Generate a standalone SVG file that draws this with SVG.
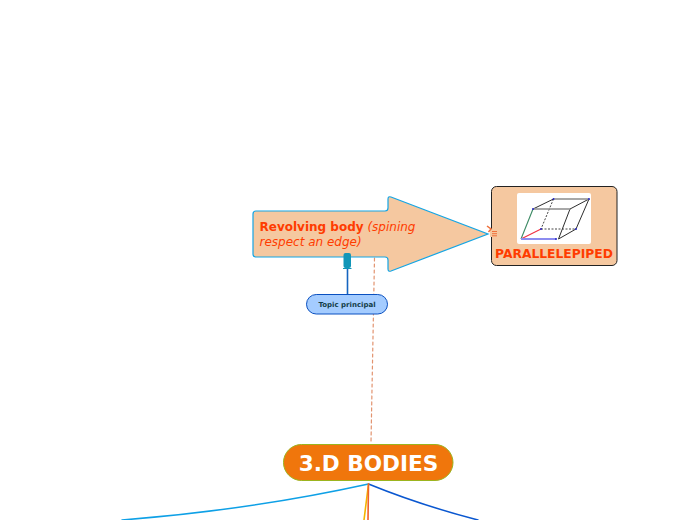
<svg xmlns="http://www.w3.org/2000/svg" width="696" height="520" viewBox="0 0 696 520">
<style>
text{font-family:"DejaVu Sans",Verdana,sans-serif}
.c{fill:none;stroke-linecap:round}
.e{fill:none;stroke:#2e2e2e;stroke-width:1}
.d{fill:#2a2ac8}
</style>
<rect width="696" height="520" fill="#fff"/>
<g id="connectors">
<path class="c" d="M374.500 258L371 442" stroke="#e2936f" stroke-width="1.200" stroke-dasharray="3 3"/>
<path class="c" d="M347.500 268V294" stroke="#1565c0" stroke-width="1.600"/>
<path class="c" d="M368.500 484Q250 510 122 520" stroke="#0ea0e6" stroke-width="1.500"/>
<path class="c" d="M368.500 484Q420 505 478 520" stroke="#0a57d0" stroke-width="1.500"/>
<path class="c" d="M368.500 484L364 520" stroke="#f5b400" stroke-width="1.600"/>
<path class="c" d="M368.500 484L368 520" stroke="#f0602a" stroke-width="1.600"/>
</g>
<g id="node-revolving">
<path d="M256 211H385Q388 211 388 208V199Q388 196 391 197L488 234L391 271Q388 272 388 269V260Q388 257 385 257H256Q253 257 253 254V214Q253 211 256 211Z" fill="#f5c8a0" stroke="#14a5e4" stroke-width="1.200"/>
<text x="259.500" y="231" font-size="12" fill="#ff3c00"><tspan font-weight="700">Revolving body</tspan> <tspan font-style="italic">(spining</tspan></text>
<text x="259.500" y="246" font-size="12" font-style="italic" fill="#ff3c00">respect an edge)</text>
<rect x="343.500" y="253" width="7.500" height="15" rx="2" fill="#1296b8"/>
<path d="M343 268.500H351.500" stroke="#1296b8" stroke-width="1"/>
</g>
<g id="node-topic">
<rect x="306.500" y="294.500" width="81" height="19.500" rx="9.750" fill="#a4ccff" stroke="#0a50c0" stroke-width="1"/>
<text x="347" y="307" font-size="7" font-weight="700" fill="#123c48" text-anchor="middle">Topic principal</text>
</g>
<g id="node-parallelepiped">
<rect x="491.500" y="186.500" width="125.500" height="79" rx="5" fill="#f5c8a0" stroke="#222" stroke-width="1"/>
<rect x="517" y="193" width="74" height="51" rx="2" fill="#fff"/>
<path class="e" d="M533 209L553.500 199M589 199L570 209M589 199L576 229L558.500 239M570 209L558.500 239"/>
<path d="M553.500 199L541 229" fill="none" stroke="#444" stroke-width="1" stroke-dasharray="2 1.500"/>
<path d="M541 229H576" fill="none" stroke="#444" stroke-width="1" stroke-dasharray="2 1.500"/>
<path d="M553.500 199H589M533 209H570" fill="none" stroke="#8c8c8c" stroke-width="1.600"/>
<path d="M521 239L533 209" fill="none" stroke="#3c8a64" stroke-width="1.100"/>
<path d="M521 239L541 229" fill="none" stroke="#f03040" stroke-width="1.100"/>
<path d="M521 239H556" fill="none" stroke="#8c8cf0" stroke-width="1.800"/>
<circle class="d" cx="553.500" cy="199" r="1"/><circle class="d" cx="589" cy="199" r="1"/><circle class="d" cx="541" cy="229" r="1"/><circle class="d" cx="576" cy="229" r="1"/><circle class="d" cx="556" cy="239" r="1"/><circle class="d" cx="533" cy="209" r="1"/>
<text x="554" y="258" font-size="12.300" font-weight="700" fill="#ff3c00" text-anchor="middle">PARALLELEPIPED</text>
<rect x="490" y="229" width="8" height="8" fill="#f5c8a0"/>
<path d="M487 226L491 229L488.500 232" fill="none" stroke="#f0703a" stroke-width="1.500"/>
<path d="M492 231.500H497M492 233.700H497M492 235.800H497" stroke="#f0703a" stroke-width="1"/>
</g>
<g id="node-bodies">
<rect x="283.500" y="444.500" width="169.500" height="36" rx="18" fill="#f0760c" stroke="#9cb41e" stroke-width="1"/>
<text x="368.500" y="471" font-size="21.600" font-weight="700" fill="#fff" text-anchor="middle">3.D BODIES</text>
</g>
</svg>
